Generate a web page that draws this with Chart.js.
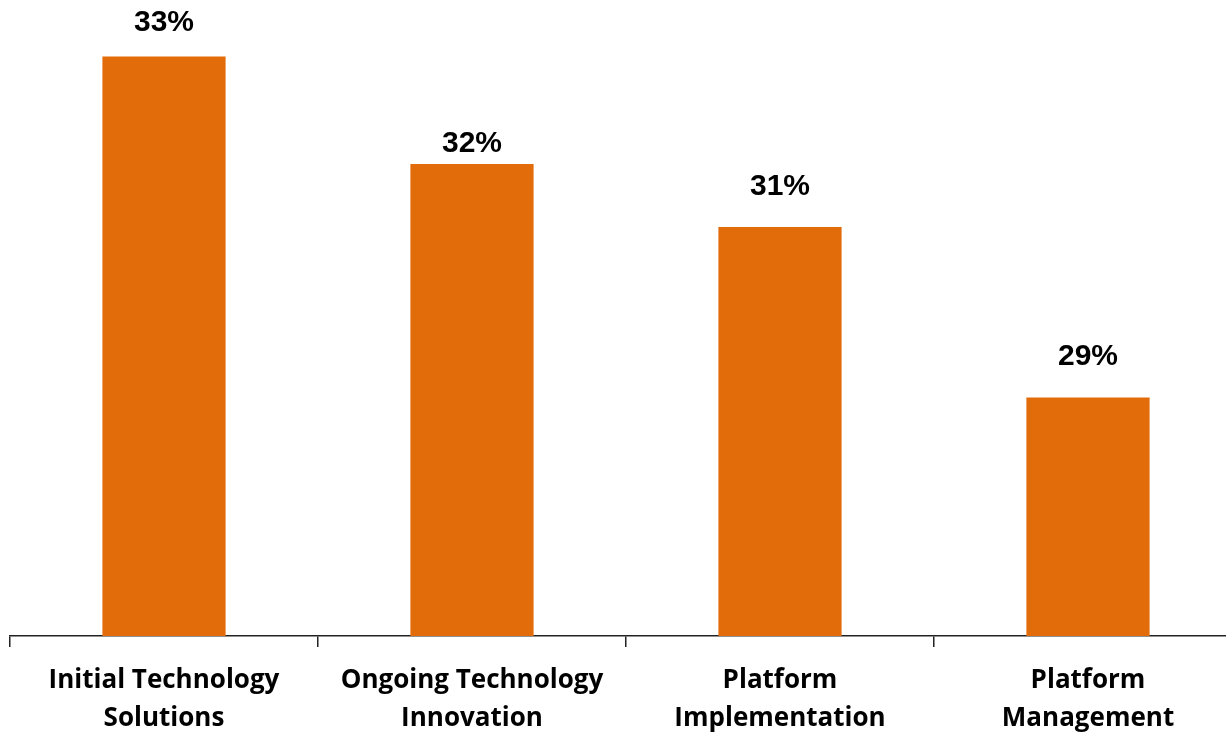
<!DOCTYPE html>
<html>
<head>
<meta charset="utf-8">
<script src="https://cdn.jsdelivr.net/npm/chart.js@4"></script>
<style>
  html, body { margin: 0; padding: 0; background: #fff; overflow: hidden; }
  .wrap { position: relative; width: 1250px; height: 753px; }
</style>
</head>
<body>
<div class="wrap"><canvas id="barChart"></canvas></div>
<script>
const categories = [
  ['Initial Technology', 'Solutions'],
  ['Ongoing Technology', 'Innovation'],
  ['Platform', 'Implementation'],
  ['Platform', 'Management'],
];
const shares = [32.8, 31.54, 30.8, 28.8];
const shareLabels = ['33%', '32%', '31%', '29%'];

const BAR_COLOR = '#E36C0A';

// value labels above each bar (the original places them a little unevenly)
const topLabels = {
  id: 'topLabels',
  afterDatasetsDraw(chart) {
    const gap = [34, 20, 40, 41];
    const ctx = chart.ctx;
    const meta = chart.getDatasetMeta(0);
    ctx.save();
    ctx.font = 'bold 30px "Liberation Sans", Arial, sans-serif';
    ctx.fillStyle = '#000';
    ctx.textAlign = 'center';
    ctx.textBaseline = 'middle';
    meta.data.forEach((bar, i) => {
      ctx.fillText(shareLabels[i], bar.x, bar.y - gap[i]);
    });
    ctx.restore();
  }
};

new Chart(document.getElementById('barChart').getContext('2d'), {
  type: 'bar',
  data: {
    labels: categories,
    datasets: [{
      data: shares,
      backgroundColor: BAR_COLOR,
      barPercentage: 0.4,
      categoryPercentage: 1.0,
    }]
  },
  options: {
    responsive: true, maintainAspectRatio: false,
    animation: false,
    layout: { padding: { top: 14, left: 10, right: 8, bottom: 0 } },
    plugins: { legend: { display: false }, tooltip: { enabled: false } },
    scales: {
      x: {
        offset: true,
        border: { display: true, color: '#222', width: 1.5 },
        grid: { offset: true, drawOnChartArea: false, drawTicks: true, tickLength: 11, color: '#222', lineWidth: 1.5 },
        ticks: {
          color: '#000',
          padding: 15,
          maxRotation: 0,
          font: { family: '"Open Sans", sans-serif', size: 26, weight: 'bold', lineHeight: 1.46 }
        }
      },
      y: { display: false, min: 26, max: 33.3 }
    }
  },
  plugins: [topLabels]
});
</script>
</body>
</html>
